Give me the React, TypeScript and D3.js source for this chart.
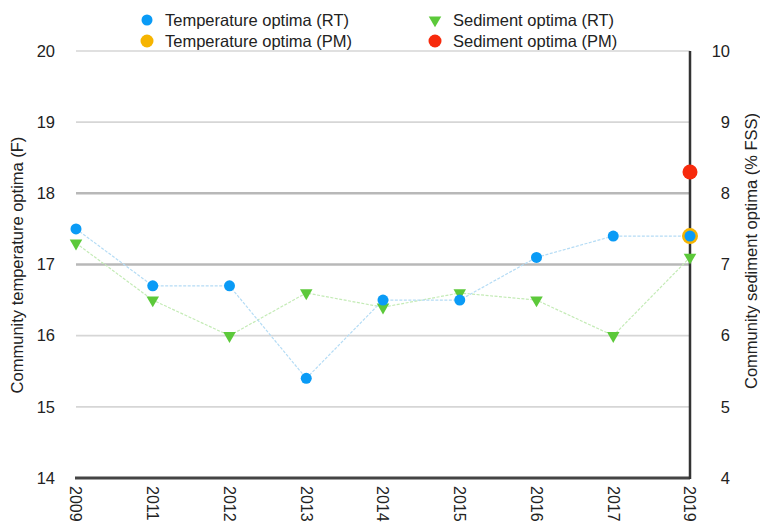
import React, { useEffect, useRef } from 'react';
import * as d3 from 'd3';

const years = ['2009', '2011', '2012', '2013', '2014', '2015', '2016', '2017', '2019'];
const tempRT = [17.5, 16.7, 16.7, 15.4, 16.5, 16.5, 17.1, 17.4, 17.4];
const sedRT = [7.3, 6.5, 6.0, 6.6, 6.4, 6.6, 6.5, 6.0, 7.1];
const tempPM = [{ year: '2019', value: 17.4 }];
const sedPM = [{ year: '2019', value: 8.3 }];
const leftTicks = [14, 15, 16, 17, 18, 19, 20];
const rightTicks = [4, 5, 6, 7, 8, 9, 10];

const App: React.FC = () => {
  const svgRef = useRef<SVGSVGElement>(null);

  useEffect(() => {
    if (!svgRef.current) return;
    const svg = d3.select(svgRef.current);
    svg.selectAll('*').remove();

    const font = '"Liberation Sans", Arial, Helvetica, sans-serif';
    const left = 76, right = 690, top = 51, bottom = 478;

    const x = d3.scalePoint<string>().domain(years).range([left, right]);
    const yL = d3.scaleLinear().domain([14, 20]).range([bottom, top]);
    const yR = d3.scaleLinear().domain([4, 10]).range([bottom, top]);

    // grid
    svg.append('g')
      .selectAll('line')
      .data(leftTicks.filter(t => t > 14))
      .enter()
      .append('line')
      .attr('x1', left)
      .attr('x2', right)
      .attr('y1', d => yL(d))
      .attr('y2', d => yL(d))
      .attr('stroke', d => (d === 17 || d === 18 ? '#b8b8b8' : '#d6d6d6'))
      .attr('stroke-width', d => (d === 17 || d === 18 ? 2.5 : 1.6));

    // axes lines
    svg.append('line')
      .attr('x1', left - 1).attr('x2', right)
      .attr('y1', bottom).attr('y2', bottom)
      .attr('stroke', '#444').attr('stroke-width', 2.8);
    svg.append('line')
      .attr('x1', right).attr('x2', right)
      .attr('y1', top).attr('y2', bottom + 1)
      .attr('stroke', '#333').attr('stroke-width', 2.5);

    // tick labels
    svg.append('g')
      .selectAll('text')
      .data(leftTicks)
      .enter()
      .append('text')
      .attr('x', 55)
      .attr('y', d => yL(d))
      .attr('dy', '0.35em')
      .attr('text-anchor', 'end')
      .style('font-family', font)
      .style('font-size', '16.5px')
      .style('fill', '#222')
      .text(d => d);

    svg.append('g')
      .selectAll('text')
      .data(rightTicks)
      .enter()
      .append('text')
      .attr('x', 730)
      .attr('y', d => yR(d))
      .attr('dy', '0.35em')
      .attr('text-anchor', 'end')
      .style('font-family', font)
      .style('font-size', '16.5px')
      .style('fill', '#222')
      .text(d => d);

    svg.append('g')
      .selectAll('text')
      .data(years)
      .enter()
      .append('text')
      .attr('transform', d => `translate(${x(d)},${bottom + 8}) rotate(90)`)
      .attr('dy', '0.35em')
      .attr('text-anchor', 'start')
      .style('font-family', font)
      .style('font-size', '16px')
      .style('fill', '#222')
      .text(d => d);

    // axis titles
    svg.append('text')
      .attr('transform', 'translate(17,265) rotate(-90)')
      .attr('dy', '0.35em')
      .attr('text-anchor', 'middle')
      .style('font-family', font)
      .style('font-size', '16.5px')
      .style('fill', '#222')
      .text('Community temperature optima (F)');

    svg.append('text')
      .attr('transform', 'translate(751,251) rotate(-90)')
      .attr('dy', '0.35em')
      .attr('text-anchor', 'middle')
      .style('font-family', font)
      .style('font-size', '16.5px')
      .style('fill', '#222')
      .text('Community sediment optima (% FSS)');

    // connector lines
    const tempLine = d3.line<number>()
      .x((_, i) => x(years[i]) || 0)
      .y(d => yL(d));
    const sedLine = d3.line<number>()
      .x((_, i) => x(years[i]) || 0)
      .y(d => yR(d));

    svg.append('path')
      .attr('d', sedLine(sedRT) || '')
      .attr('fill', 'none')
      .attr('stroke', '#c4ebb6')
      .attr('stroke-width', 1.2)
      .attr('stroke-dasharray', '3,1.5');

    svg.append('path')
      .attr('d', tempLine(tempRT) || '')
      .attr('fill', 'none')
      .attr('stroke', '#b5dcf5')
      .attr('stroke-width', 1.2)
      .attr('stroke-dasharray', '3,1.5');

    // markers
    const tri = d3.symbol().type(d3.symbolTriangle).size(68);

    svg.append('g')
      .selectAll('path')
      .data(sedRT)
      .enter()
      .append('path')
      .attr('d', tri() || '')
      .attr('transform', (d, i) => `translate(${x(years[i])},${yR(d)}) rotate(180)`)
      .attr('fill', '#5cc93a');

    svg.append('g')
      .selectAll('circle')
      .data(tempPM)
      .enter()
      .append('circle')
      .attr('cx', d => x(d.year) || 0)
      .attr('cy', d => yL(d.value))
      .attr('r', 8)
      .attr('fill', '#f6b400');

    svg.append('g')
      .selectAll('circle')
      .data(tempRT)
      .enter()
      .append('circle')
      .attr('cx', (d, i) => x(years[i]) || 0)
      .attr('cy', d => yL(d))
      .attr('r', 5.5)
      .attr('fill', '#0a9bf6');

    svg.append('g')
      .selectAll('circle')
      .data(sedPM)
      .enter()
      .append('circle')
      .attr('cx', d => x(d.year) || 0)
      .attr('cy', d => yR(d.value))
      .attr('r', 7.5)
      .attr('fill', '#f72a0c');

    // legend
    const legend = [
      { label: 'Temperature optima (RT)', kind: 'circle', color: '#0a9bf6', lx: 147, ly: 20, r: 5.5 },
      { label: 'Sediment optima (RT)', kind: 'tri', color: '#5cc93a', lx: 435, ly: 20, r: 0 },
      { label: 'Temperature optima (PM)', kind: 'circle', color: '#f6b400', lx: 147, ly: 41, r: 6.5 },
      { label: 'Sediment optima (PM)', kind: 'circle', color: '#f72a0c', lx: 435, ly: 41, r: 6.5 },
    ];
    const lg = svg.append('g');
    legend.forEach(item => {
      if (item.kind === 'circle') {
        lg.append('circle')
          .attr('cx', item.lx).attr('cy', item.ly).attr('r', item.r)
          .attr('fill', item.color);
      } else {
        lg.append('path')
          .attr('d', tri() || '')
          .attr('transform', `translate(${item.lx},${item.ly}) rotate(180)`)
          .attr('fill', item.color);
      }
      lg.append('text')
        .attr('x', item.lx + 18)
        .attr('y', item.ly)
        .attr('dy', '0.35em')
        .style('font-family', font)
        .style('font-size', '16.5px')
        .style('fill', '#222')
        .text(item.label);
    });
  }, []);

  return (
    <svg
      ref={svgRef}
      width={760}
      height={525}
      style={{ position: 'absolute', left: 0, top: 0, background: '#fff' }}
    />
  );
};

export default App;
